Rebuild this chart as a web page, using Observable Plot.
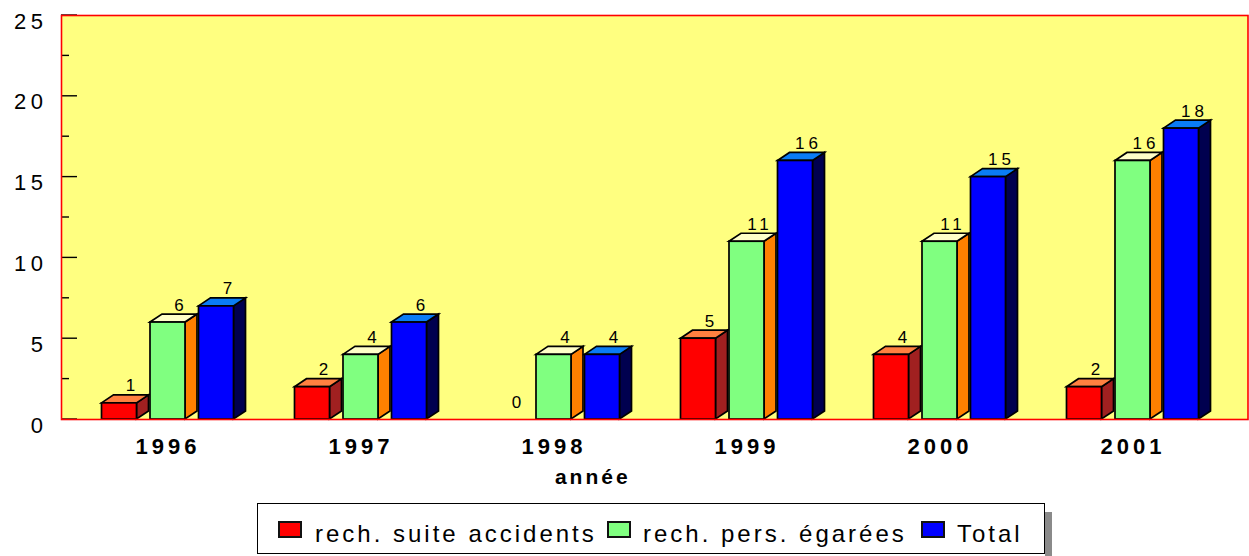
<!DOCTYPE html>
<html>
<head>
<meta charset="utf-8">
<script src="https://cdn.jsdelivr.net/npm/d3@7"></script>
<script src="https://cdn.jsdelivr.net/npm/@observablehq/plot@0.6"></script>
<style>
html,body{margin:0;padding:0;background:#fff;}
body{width:1249px;height:556px;position:relative;overflow:hidden;font-family:"Liberation Sans",Arial,sans-serif;}
#chart{position:absolute;left:0;top:0;}
g[aria-label="y-axis tick label"] text{letter-spacing:4.5px;}
g[aria-label="x-axis tick label"] text{letter-spacing:4px;}
#legend{position:absolute;left:257px;top:503px;width:788px;height:51px;border:1.5px solid #000;background:#fff;box-sizing:border-box;}
#shadow{position:absolute;left:1045px;top:512px;width:7px;height:50px;background:#8a8a8a;}
.sq{position:absolute;top:521px;width:24px;height:17px;border:2px solid #111;box-sizing:border-box;}
.lt{position:absolute;top:522px;font-size:24px;line-height:24px;letter-spacing:3px;color:#000;white-space:nowrap;}
</style>
</head>
<body>
<div id="chart"></div>
<div id="shadow"></div>
<div id="legend"></div>
<div id="legendItems"></div>
<script>
// ---- data ----
const years = ["1996", "1997", "1998", "1999", "2000", "2001"];
const seriesNames = ["rech. suite accidents", "rech. pers. égarées", "Total"];
const accidents = [1, 2, 0, 5, 4, 2];
const egarees = [6, 4, 4, 11, 11, 16];
const total = [7, 6, 4, 16, 15, 18];
const yTicks = [0, 5, 10, 15, 20, 25];
const yMinorTicks = [2.5, 7.5, 12.5, 17.5, 22.5];
const xTicks = [0, 1, 2, 3, 4, 5];
const axisTitle = ["année"];

// ---- styles ----
const frontColors = ["#ff0000", "#80ff80", "#0000ff"];
const topColors = ["#ff8040", "#ffffc8", "#0a7cf5"];
const sideColors = ["#a02020", "#ff8000", "#00004f"];
const seriesDx = [-48.5, 0, 48.5];
const barW = 35, depthX = 12, depthY = 8;

const seriesValues = [accidents, egarees, total];
const rows = [];
seriesValues.forEach((vals, s) => vals.forEach((v, i) => rows.push({year: years[i], i, s, value: v})));

function ticksMark(index, scales) {
  const {x, y} = scales;
  const g = d3.create("svg:g").attr("aria-label", "ticks").attr("stroke", "#000").attr("stroke-width", 1.4);
  const left = 61;
  for (const t of yTicks) g.append("line").attr("x1", left).attr("x2", left + 16).attr("y1", y(t)).attr("y2", y(t));
  for (const t of yMinorTicks) g.append("line").attr("x1", left).attr("x2", left + 8).attr("y1", y(t)).attr("y2", y(t));
  const y0 = y(0);
  for (const t of xTicks) g.append("line").attr("x1", x(t)).attr("x2", x(t)).attr("y1", y0).attr("y2", y0 - 12);
  return g.node();
}

function bars3d(index, scales) {
  const {x, y} = scales;
  const g = d3.create("svg:g").attr("aria-label", "bars3d")
    .attr("stroke", "#000").attr("stroke-width", 1.7).attr("stroke-linejoin", "miter");
  const y0 = y(0);
  for (const d of rows) {
    if (d.value <= 0) continue;
    const cx = x(d.i) + seriesDx[d.s];
    const L = cx - barW / 2, R = cx + barW / 2, yt = y(d.value);
    g.append("polygon").attr("fill", sideColors[d.s])
      .attr("points", [[R, yt], [R + depthX, yt - depthY], [R + depthX, y0 - depthY], [R, y0]].map(p => p.join(",")).join(" "));
    g.append("polygon").attr("fill", topColors[d.s])
      .attr("points", [[L, yt], [L + depthX, yt - depthY], [R + depthX, yt - depthY], [R, yt]].map(p => p.join(",")).join(" "));
    g.append("rect").attr("fill", frontColors[d.s])
      .attr("x", L).attr("y", yt).attr("width", barW).attr("height", y0 - yt);
  }
  return g.node();
}

const labelMarks = [0, 1, 2].map(s => Plot.text(rows.filter(d => d.s === s), {
  x: "i", y: "value", text: d => String(d.value),
  dx: seriesDx[s] + 13, dy: -12, lineAnchor: "bottom",
  fontSize: 17, fill: "#000"
}));

const chart = Plot.plot({
  width: 1249,
  height: 500,
  marginLeft: 61,
  marginRight: 1.5,
  marginTop: 15,
  marginBottom: 81,
  style: {fontFamily: "'Liberation Sans', Arial, sans-serif", background: "transparent", overflow: "visible", color: "#000"},
  x: {type: "linear", domain: [-0.5518, 5.5959]},
  y: {domain: [0, 25]},
  marks: [
    Plot.frame({fill: "#ffff80", stroke: null}),
    Plot.axisY({ticks: yTicks, tickSize: 0, tickPadding: 14, fontSize: 22, dy: 6, label: null, anchor: "left"}),
    Plot.axisX({ticks: xTicks, tickFormat: i => years[i], tickSize: 0, tickPadding: 19, fontSize: 22, fontWeight: "bold", label: null, anchor: "bottom"}),
    ticksMark,
    bars3d,
    ...labelMarks,
    Plot.text(axisTitle, {frameAnchor: "bottom", text: d => d, dx: -62, dy: 64, lineAnchor: "bottom", fontSize: 21, fontWeight: "bold"}),
    Plot.frame({stroke: "#ff0000", strokeWidth: 1.6})
  ]
});
// letter spacing for the value labels and the axis title
d3.select(chart).selectAll('g[font-size="17"] text').style("letter-spacing", "4px");
d3.select(chart).selectAll('g[font-size="21"] text').style("letter-spacing", "3px");
document.getElementById("chart").appendChild(chart);

// legend (HTML, below the SVG)
const sqLeft = [278, 607, 921];
const txtLeft = [315, 643, 957];
const items = document.getElementById("legendItems");
seriesNames.forEach((name, s) => {
  const sq = document.createElement("div");
  sq.className = "sq"; sq.style.left = sqLeft[s] + "px"; sq.style.background = frontColors[s];
  items.appendChild(sq);
  const t = document.createElement("div");
  t.className = "lt"; t.style.left = txtLeft[s] + "px"; t.textContent = name;
  items.appendChild(t);
});
</script>
</body>
</html>
